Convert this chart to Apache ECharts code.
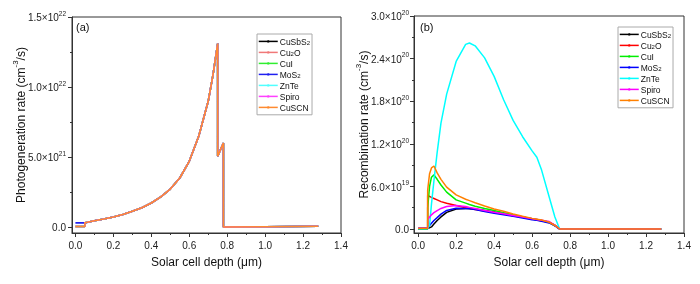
<!DOCTYPE html>
<html><head><meta charset="utf-8">
<script src="https://cdn.jsdelivr.net/npm/echarts@6/dist/echarts.min.js"></script>
<style>html,body{margin:0;padding:0;background:#fff}#c{width:700px;height:284px}</style>
</head><body><div id="c"></div>
<script>
// ---------- data ----------
const seriesNames = ['CuSbS2', 'Cu2O', 'CuI', 'MoS2', 'ZnTe', 'Spiro', 'CuSCN'];

// Panel (a): photogeneration rate (cm^-3/s) vs depth (um)
const depthA = [0, 0.05, 0.05, 0.1, 0.15, 0.2, 0.25, 0.3, 0.35, 0.4, 0.45, 0.5, 0.55, 0.6, 0.65, 0.7, 0.725, 0.75, 0.75, 0.78, 0.78, 1.0, 1.28];
const photogenCommon = [0.003e22, 0.003e22, 0.03e22, 0.045e22, 0.057e22, 0.071e22, 0.089e22, 0.112e22, 0.138e22, 0.171e22, 0.215e22, 0.271e22, 0.35e22, 0.469e22, 0.648e22, 0.898e22, 1.085e22, 1.31e22, 0.505e22, 0.60e22, 0.0, 0.002e22, 0.005e22];
const photogenMoS2 = [0.029e22, 0.029e22, 0.03e22, 0.045e22, 0.057e22, 0.071e22, 0.089e22, 0.112e22, 0.138e22, 0.171e22, 0.215e22, 0.271e22, 0.35e22, 0.469e22, 0.648e22, 0.898e22, 1.085e22, 1.31e22, 0.505e22, 0.60e22, 0.0, 0.002e22, 0.005e22];

// Panel (b): recombination rate (cm^-3/s) vs depth (um)
const depthB = [0, 0.05, 0.05, 0.06, 0.07, 0.083, 0.1, 0.12, 0.15, 0.2, 0.25, 0.27, 0.3, 0.35, 0.4, 0.45, 0.5, 0.55, 0.6, 0.625, 0.65, 0.69, 0.72, 0.745, 0.8, 1.0, 1.28];
const recCuSbS2 = [0.005e20, 0.005e20, 0.005e20, 0.01e20, 0.03e20, 0.07e20, 0.12e20, 0.17e20, 0.235e20, 0.283e20, 0.29e20, 0.288e20, 0.282e20, 0.262e20, 0.241e20, 0.216e20, 0.192e20, 0.168e20, 0.145e20, 0.133e20, 0.121e20, 0.097e20, 0.05e20, 0, 0, 0, 0];
const recCu2O   = [0.005e20, 0.005e20, 0.472e20, 0.46e20, 0.445e20, 0.43e20, 0.41e20, 0.386e20, 0.362e20, 0.33e20, 0.3e20, 0.29e20, 0.274e20, 0.253e20, 0.232e20, 0.21e20, 0.188e20, 0.164e20, 0.14e20, 0.128e20, 0.116e20, 0.095e20, 0.05e20, 0, 0, 0, 0];
const recCuI    = [0.005e20, 0.005e20, 0.3e20, 0.6e20, 0.73e20, 0.762e20, 0.70e20, 0.62e20, 0.52e20, 0.41e20, 0.365e20, 0.345e20, 0.322e20, 0.29e20, 0.26e20, 0.23e20, 0.2e20, 0.17e20, 0.14e20, 0.127e20, 0.115e20, 0.09e20, 0.05e20, 0, 0, 0, 0];
const recMoS2   = [0.014e20, 0.014e20, 0.02e20, 0.05e20, 0.08e20, 0.12e20, 0.16e20, 0.21e20, 0.262e20, 0.292e20, 0.29e20, 0.284e20, 0.274e20, 0.248e20, 0.222e20, 0.2e20, 0.178e20, 0.155e20, 0.132e20, 0.122e20, 0.11e20, 0.086e20, 0.045e20, 0, 0, 0, 0];
const recZnTe   = [0.005e20, 0.005e20, 0.005e20, 0.05e20, 0.35e20, 0.68e20, 1.08e20, 1.49e20, 1.9e20, 2.36e20, 2.6e20, 2.62e20, 2.58e20, 2.41e20, 2.15e20, 1.82e20, 1.53e20, 1.3e20, 1.1e20, 1.01e20, 0.83e20, 0.45e20, 0.17e20, 0, 0, 0, 0];
const recSpiro  = [0.01e20, 0.01e20, 0.13e20, 0.17e20, 0.2e20, 0.23e20, 0.26e20, 0.29e20, 0.318e20, 0.332e20, 0.318e20, 0.305e20, 0.289e20, 0.262e20, 0.236e20, 0.214e20, 0.192e20, 0.168e20, 0.145e20, 0.135e20, 0.125e20, 0.105e20, 0.055e20, 0, 0, 0, 0];
const recCuSCN  = [0.01e20, 0.01e20, 0.55e20, 0.78e20, 0.86e20, 0.888e20, 0.79e20, 0.7e20, 0.59e20, 0.48e20, 0.42e20, 0.40e20, 0.37e20, 0.325e20, 0.282e20, 0.25e20, 0.212e20, 0.18e20, 0.15e20, 0.138e20, 0.126e20, 0.095e20, 0.05e20, 0, 0, 0, 0];

// ticks
const xTicks = [0, 0.2, 0.4, 0.6, 0.8, 1.0, 1.2, 1.4];
const xTickLabels = ['0.0', '0.2', '0.4', '0.6', '0.8', '1.0', '1.2', '1.4'];
const xMinorTicks = [0.1, 0.3, 0.5, 0.7, 0.9, 1.1, 1.3];
const yTicksA = [0, 5e21, 1e22, 1.5e22];
const yTickLabelsA = ['0.0', '5.0×10^21', '1.0×10^22', '1.5×10^22'];
const yMinorTicksA = [2.5e21, 7.5e21, 1.25e22];
const yTicksB = [0, 6e19, 1.2e20, 1.8e20, 2.4e20, 3e20];
const yTickLabelsB = ['0.0', '6.0×10^19', '1.2×10^20', '1.8×10^20', '2.4×10^20', '3.0×10^20'];
const yMinorTicksB = [3e19, 9e19, 1.5e20, 2.1e20, 2.7e20];

// ---------- styling ----------
const colorsB = ['#000000', '#FF0000', '#00EE00', '#0000FF', '#00FFFF', '#FF00FF', '#FF8000'];
const colorsA = ['#000000', '#F07878', '#30EE30', '#2020F0', '#50FFFF', '#FF40FF', '#FF8A30'];
const FONT = 'Liberation Sans, Arial, sans-serif';
const AX = '#333';

const recB = [recCuSbS2, recCu2O, recCuI, recMoS2, recZnTe, recSpiro, recCuSCN];
const pair = (xs, ys) => xs.map((x, i) => [x, ys[i]]);

function lookup(v, ticks, labels) {
  for (let i = 0; i < ticks.length; i++) {
    if (Math.abs(v - ticks[i]) <= Math.abs(ticks[i]) * 1e-6 + 1e-9) return labels[i];
  }
  return '';
}
function supFmt(s) {
  const m = s.split('^');
  return m.length > 1 ? '{b|' + m[0] + '}{s|' + m[1] + '}' : '{b|' + s + '}';
}
const tickRich = {
  b: { fontSize: 10, fontFamily: FONT, color: '#222', lineHeight: 13, verticalAlign: 'bottom' },
  s: { fontSize: 6.5, fontFamily: FONT, color: '#222', lineHeight: 13, verticalAlign: 'top' }
};
const nameRich = {
  t: { fontSize: 12, fontFamily: FONT, color: '#111', lineHeight: 16, verticalAlign: 'bottom' },
  s: { fontSize: 8, fontFamily: FONT, color: '#111', lineHeight: 16, verticalAlign: 'top' }
};

function mainX(grid, min, nameGap) {
  return {
    type: 'value', gridIndex: grid, min: min, max: 1.4, position: 'bottom',
    name: 'Solar cell depth (\u03bcm)', nameLocation: 'middle', nameGap: nameGap, nameMoveOverlap: false,
    nameTextStyle: { fontSize: 12, fontFamily: FONT, color: '#111' },
    axisLine: { show: true, onZero: false, lineStyle: { color: AX, width: 1 } },
    axisTick: { show: true, inside: false, length: 4, customValues: xTicks, lineStyle: { color: AX } },
    axisLabel: { customValues: xTicks, margin: 8, fontSize: 10, fontFamily: FONT, color: '#222',
      formatter: v => lookup(v, xTicks, xTickLabels) },
    splitLine: { show: false }
  };
}
function minorX(grid, min) {
  return {
    type: 'value', gridIndex: grid, min: min, max: 1.4, position: 'bottom',
    axisLine: { show: false, onZero: false },
    axisTick: { show: true, inside: false, length: 2, customValues: xMinorTicks, lineStyle: { color: AX } },
    axisLabel: { show: false }, splitLine: { show: false }
  };
}
function mainY(grid, min, max, ticks, labels, nameStr, nameGap, margin) {
  return {
    type: 'value', gridIndex: grid, min: min, max: max, position: 'left',
    name: nameStr, nameLocation: 'middle', nameGap: nameGap, nameMoveOverlap: false,
    nameTextStyle: { rich: nameRich },
    axisLine: { show: true, onZero: false, lineStyle: { color: AX, width: 1 } },
    axisTick: { show: true, inside: false, length: 4, customValues: ticks, lineStyle: { color: AX } },
    axisLabel: { customValues: ticks, margin: margin, rich: tickRich,
      formatter: v => supFmt(lookup(v, ticks, labels)) },
    splitLine: { show: false }
  };
}
function minorY(grid, min, max, ticks) {
  return {
    type: 'value', gridIndex: grid, min: min, max: max, position: 'left',
    axisLine: { show: false, onZero: false },
    axisTick: { show: true, inside: false, length: 2, customValues: ticks, lineStyle: { color: AX } },
    axisLabel: { show: false }, splitLine: { show: false }
  };
}
const legendRich = {
  n: { fontSize: 8.5, fontFamily: FONT, color: '#111', lineHeight: 10.8, verticalAlign: 'bottom' },
  sub: { fontSize: 6, fontFamily: FONT, color: '#111', lineHeight: 9, verticalAlign: 'bottom' }
};
function legend(left, top, prefix) {
  return {
    orient: 'vertical', left: left, top: top,
    data: seriesNames.map(n => prefix + n),
    borderColor: '#aaa', borderWidth: 1, padding: [2, 2, 2, 1],
    itemWidth: 19, itemHeight: 3, itemGap: 0.2,
    lineStyle: { width: 1.5 },
    textStyle: { fontSize: 8.5, fontFamily: FONT, color: '#111', lineHeight: 10.8, padding: [0, 0, 0, -3], rich: legendRich },
    formatter: n => n.slice(prefix.length).split(/(\d)/).filter(t => t !== '')
      .map(t => /\d/.test(t) ? '{sub|' + t + '}' : '{n|' + t + '}').join(''),
    selectedMode: false
  };
}

const series = [];
seriesNames.forEach((n, i) => {
  series.push({
    type: 'line', name: 'a:' + n, xAxisIndex: 0, yAxisIndex: 0,
    data: pair(depthA, n === 'MoS2' ? photogenMoS2 : photogenCommon),
    showSymbol: false, symbol: 'circle', symbolSize: 2,
    color: colorsA[i], lineStyle: { width: 1.6, color: colorsA[i] },
    animation: false, z: 2 + i
  });
});
seriesNames.forEach((n, i) => {
  series.push({
    type: 'line', name: 'b:' + n, xAxisIndex: 2, yAxisIndex: 2,
    data: pair(depthB, recB[i]),
    showSymbol: false, symbol: 'circle', symbolSize: 2,
    color: colorsB[i], lineStyle: { width: 1.5, color: colorsB[i] },
    animation: false, z: 2 + i
  });
});

const option = {
  animation: false,
  backgroundColor: '#fff',
  textStyle: { fontFamily: FONT },
  grid: [
    { left: 72, top: 17, width: 269, height: 216, show: true, borderColor: AX, borderWidth: 1, containLabel: false },
    { left: 414, top: 16, width: 270, height: 217, show: true, borderColor: AX, borderWidth: 1, containLabel: false }
  ],
  xAxis: [mainX(0, -0.018, 24), minorX(0, -0.018), mainX(1, -0.022, 24), minorX(1, -0.022)],
  yAxis: [
    mainY(0, -4.3e20, 1.5e22, yTicksA, yTickLabelsA, '{t|Photogeneration rate (cm}{s|-3}{t|/s)}', 44, 6),
    minorY(0, -4.3e20, 1.5e22, yMinorTicksA),
    mainY(1, -5.6e18, 3e20, yTicksB, yTickLabelsB, '{t|Recombination rate (cm}{s|-3}{t|/s)}', 43, 5),
    minorY(1, -5.6e18, 3e20, yMinorTicksB)
  ],
  legend: [legend(257, 34, 'a:'), legend(618, 27, 'b:')],
  graphic: [
    { type: 'text', left: 76, top: 22, style: { text: '(a)', fontSize: 11, fontFamily: FONT, fill: '#111' } },
    { type: 'text', left: 420, top: 22, style: { text: '(b)', fontSize: 11, fontFamily: FONT, fill: '#111' } }
  ],
  series: series
};
const chart = echarts.init(document.getElementById('c'), null, { renderer: 'canvas' });
chart.setOption(option);
</script></body></html>
